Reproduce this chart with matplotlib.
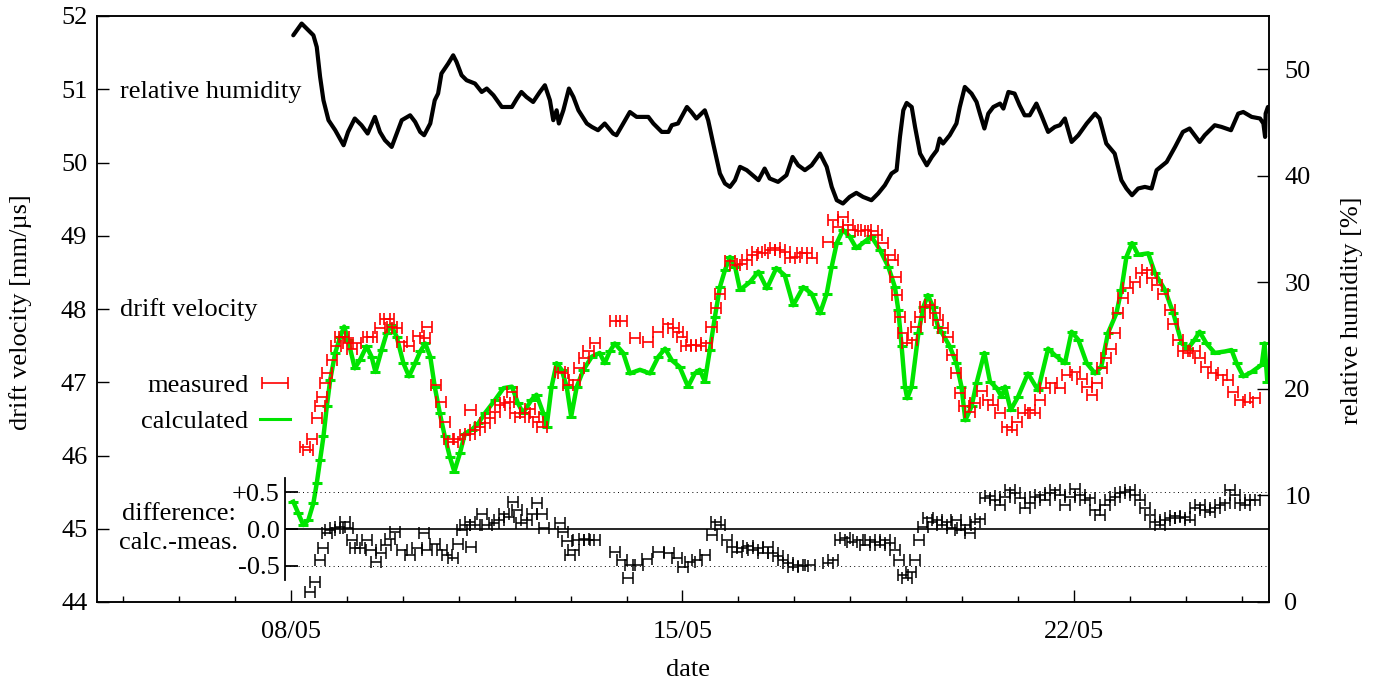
import matplotlib
matplotlib.use("Agg")
import matplotlib.pyplot as plt
from matplotlib.ticker import MultipleLocator, FixedLocator
from matplotlib.lines import Line2D

# ---------------------------------------------------------------- data
# time axis: day of May (08/05 -> 8.0)
hum_day = [8.04, 8.19, 8.28, 8.40, 8.46, 8.52, 8.58, 8.67, 8.79, 8.94,
           9.02, 9.14, 9.26, 9.37, 9.50, 9.59, 9.68, 9.80, 9.89, 9.98,
           10.13, 10.22, 10.31, 10.38, 10.49, 10.57, 10.63, 10.69, 10.81, 10.90,
           10.96, 11.05, 11.14, 11.29, 11.41, 11.50, 11.62, 11.77, 11.95, 12.04,
           12.12, 12.21, 12.33, 12.45, 12.54, 12.63, 12.69, 12.75, 12.79, 12.87,
           12.97, 13.05, 13.14, 13.29, 13.38, 13.49, 13.61, 13.76, 13.82, 13.94,
           14.06, 14.18, 14.39, 14.48, 14.63, 14.75, 14.81, 14.92, 15.08, 15.16,
           15.25, 15.40, 15.46, 15.55, 15.67, 15.76, 15.85, 15.94, 16.03, 16.15,
           16.36, 16.47, 16.56, 16.71, 16.86, 16.97, 17.07, 17.19, 17.31, 17.46,
           17.58, 17.67, 17.76, 17.87, 17.99, 18.11, 18.23, 18.38, 18.50, 18.62,
           18.74, 18.83, 18.89, 18.95, 19.01, 19.10, 19.16, 19.25, 19.37, 19.46,
           19.55, 19.60, 19.66, 19.78, 19.90, 19.96, 20.05, 20.17, 20.26, 20.32,
           20.40, 20.47, 20.56, 20.68, 20.74, 20.83, 20.94, 21.03, 21.12, 21.21,
           21.33, 21.42, 21.54, 21.66, 21.75, 21.84, 21.96, 22.08, 22.23, 22.38,
           22.46, 22.58, 22.73, 22.85, 22.94, 23.04, 23.15, 23.27, 23.39, 23.48,
           23.66, 23.81, 23.95, 24.07, 24.16, 24.25, 24.34, 24.52, 24.64, 24.81,
           24.94, 25.03, 25.18, 25.33, 25.39, 25.42, 25.43, 25.47]
hum_pct = [53.19, 54.29, 53.82, 53.19, 52.09, 49.28, 47.09, 45.22, 44.28, 42.87,
           44.12, 45.38, 44.75, 43.97, 45.53, 44.12, 43.34, 42.71, 43.97, 45.22,
           45.68, 45.06, 44.12, 43.81, 44.91, 47.09, 47.72, 49.60, 50.53, 51.31,
           50.69, 49.44, 48.97, 48.66, 47.87, 48.19, 47.56, 46.46, 46.46, 47.25,
           47.87, 47.40, 46.93, 47.87, 48.50, 47.09, 45.22, 46.15, 44.91, 46.15,
           48.19, 47.40, 46.15, 44.91, 44.59, 44.28, 44.91, 43.97, 43.81, 44.91,
           45.99, 45.53, 45.53, 44.91, 44.12, 44.12, 44.75, 44.91, 46.46, 45.99,
           45.38, 46.15, 45.22, 43.03, 40.22, 39.28, 38.96, 39.59, 40.84, 40.53,
           39.59, 40.68, 39.75, 39.43, 40.06, 41.77, 40.99, 40.53, 40.99, 42.09,
           40.84, 38.96, 37.71, 37.40, 38.02, 38.40, 38.02, 37.71, 38.34, 39.12,
           40.22, 40.53, 43.65, 46.15, 46.84, 46.46, 44.59, 42.09, 40.99, 41.77,
           42.40, 43.50, 43.03, 43.81, 44.91, 46.46, 48.34, 47.72, 46.93, 45.84,
           44.44, 45.84, 46.46, 46.78, 46.31, 47.87, 47.72, 46.62, 45.68, 45.68,
           46.78, 45.68, 44.12, 44.59, 44.75, 45.38, 43.18, 43.81, 44.91, 45.84,
           45.38, 43.03, 42.09, 39.59, 38.81, 38.18, 38.81, 38.96, 38.81, 40.53,
           41.30, 42.71, 44.12, 44.44, 43.81, 43.18, 43.81, 44.75, 44.59, 44.28,
           45.84, 45.99, 45.53, 45.38, 44.91, 43.65, 45.84, 46.46]

calc_day = [8.04, 8.13, 8.22, 8.31, 8.40, 8.46, 8.52, 8.58, 8.64, 8.70,
            8.79, 8.88, 8.95, 9.02, 9.14, 9.23, 9.35, 9.44, 9.51, 9.62,
            9.71, 9.79, 9.89, 10.01, 10.11, 10.22, 10.31, 10.40, 10.49, 10.57,
            10.66, 10.75, 10.84, 10.92, 11.02, 11.11, 11.23, 11.35, 11.47, 11.65,
            11.80, 11.95, 12.06, 12.15, 12.30, 12.39, 12.51, 12.57, 12.66, 12.75,
            12.84, 12.93, 13.01, 13.11, 13.23, 13.38, 13.52, 13.61, 13.70, 13.79,
            13.94, 14.06, 14.24, 14.42, 14.57, 14.69, 14.81, 14.95, 15.10, 15.22,
            15.31, 15.40, 15.49, 15.58, 15.67, 15.76, 15.85, 15.94, 16.03, 16.21,
            16.36, 16.51, 16.68, 16.83, 16.98, 17.16, 17.31, 17.46, 17.58, 17.67,
            17.76, 17.87, 17.99, 18.11, 18.26, 18.38, 18.53, 18.68, 18.80, 18.86,
            18.92, 18.98, 19.02, 19.10, 19.22, 19.31, 19.39, 19.48, 19.57, 19.63,
            19.78, 19.90, 19.99, 20.06, 20.17, 20.26, 20.40, 20.50, 20.62, 20.71,
            20.77, 20.87, 21.00, 21.18, 21.36, 21.54, 21.66, 21.78, 21.84, 21.96,
            22.08, 22.23, 22.38, 22.49, 22.61, 22.76, 22.85, 22.94, 23.04, 23.15,
            23.33, 23.45, 23.63, 23.78, 23.93, 24.04, 24.16, 24.25, 24.37, 24.52,
            24.70, 24.82, 24.91, 25.03, 25.18, 25.36, 25.41, 25.46]
calc_v = [45.37, 45.21, 45.05, 45.12, 45.35, 45.62, 45.94, 46.26, 46.67, 47.03,
          47.40, 47.62, 47.76, 47.58, 47.19, 47.30, 47.49, 47.35, 47.14, 47.44,
          47.67, 47.78, 47.62, 47.26, 47.08, 47.26, 47.42, 47.53, 47.35, 46.94,
          46.58, 46.26, 45.98, 45.78, 46.03, 46.30, 46.35, 46.44, 46.58, 46.76,
          46.92, 46.94, 46.71, 46.58, 46.76, 46.83, 46.58, 46.39, 46.94, 47.26,
          47.17, 46.94, 46.53, 46.94, 47.17, 47.35, 47.40, 47.26, 47.42, 47.53,
          47.40, 47.12, 47.17, 47.12, 47.35, 47.46, 47.30, 47.21, 46.94, 47.12,
          47.17, 47.01, 47.44, 47.89, 48.30, 48.53, 48.71, 48.58, 48.26, 48.37,
          48.51, 48.28, 48.56, 48.46, 48.05, 48.30, 48.21, 47.94, 48.21, 48.58,
          48.90, 49.08, 48.99, 48.83, 48.92, 48.99, 48.81, 48.58, 48.30, 47.99,
          47.49, 46.94, 46.78, 46.94, 47.67, 48.03, 48.19, 48.03, 47.76, 47.69,
          47.49, 47.26, 46.94, 46.48, 46.67, 46.99, 47.40, 47.01, 46.92, 46.80,
          46.94, 46.62, 46.80, 47.12, 46.89, 47.46, 47.37, 47.30, 47.26, 47.69,
          47.58, 47.26, 47.12, 47.21, 47.67, 47.94, 48.26, 48.71, 48.90, 48.74,
          48.76, 48.49, 48.26, 47.94, 47.53, 47.46, 47.58, 47.69, 47.53, 47.40,
          47.42, 47.44, 47.26, 47.08, 47.14, 47.24, 47.53, 47.01]

meas_day = [8.25, 8.31, 8.38, 8.46, 8.51, 8.55, 8.60, 8.65, 8.73, 8.80,
            8.88, 8.95, 9.02, 9.09, 9.17, 9.38, 9.45, 9.59, 9.68, 9.75,
            9.81, 9.89, 9.98, 10.11, 10.28, 10.40, 10.44, 10.59, 10.68, 10.75,
            10.82, 10.90, 10.99, 11.11, 11.20, 11.21, 11.29, 11.38, 11.47, 11.56,
            11.65, 11.74, 11.83, 11.90, 11.96, 12.01, 12.09, 12.18, 12.27, 12.35,
            12.42, 12.48, 12.81, 12.87, 12.96, 13.07, 13.15, 13.24, 13.32, 13.44,
            13.79, 13.91, 14.15, 14.39, 14.57, 14.75, 14.84, 14.92, 14.99, 15.07,
            15.16, 15.25, 15.34, 15.43, 15.52, 15.60, 15.67, 15.85, 15.94, 16.06,
            16.15, 16.24, 16.33, 16.44, 16.56, 16.65, 16.74, 16.83, 16.92, 17.01,
            17.13, 17.22, 17.31, 17.61, 17.70, 17.79, 17.87, 17.96, 18.05, 18.17,
            18.29, 18.41, 18.47, 18.59, 18.71, 18.76, 18.81, 18.84, 18.89, 18.95,
            19.01, 19.10, 19.17, 19.25, 19.34, 19.43, 19.51, 19.57, 19.66, 19.75,
            19.82, 19.90, 19.96, 20.04, 20.14, 20.23, 20.35, 20.47, 20.56, 20.68,
            20.80, 20.89, 20.98, 21.09, 21.21, 21.30, 21.39, 21.48, 21.60, 21.75,
            21.87, 22.02, 22.14, 22.23, 22.32, 22.41, 22.50, 22.58, 22.67, 22.73,
            22.79, 22.88, 22.97, 23.09, 23.21, 23.30, 23.39, 23.48, 23.60, 23.72,
            23.77, 23.86, 23.95, 24.04, 24.16, 24.25, 24.37, 24.49, 24.64, 24.76,
            24.85, 24.97, 25.12, 25.24]
meas_v = [46.12, 46.08, 46.22, 46.51, 46.67, 46.80, 46.99, 47.12, 47.30, 47.49,
          47.62, 47.62, 47.53, 47.46, 47.53, 47.62, 47.62, 47.74, 47.87, 47.87,
          47.76, 47.74, 47.55, 47.50, 47.63, 47.61, 47.76, 46.96, 46.73, 46.46,
          46.22, 46.19, 46.23, 46.28, 46.30, 46.62, 46.35, 46.39, 46.44, 46.51,
          46.60, 46.69, 46.72, 46.73, 46.87, 46.58, 46.53, 46.58, 46.63, 46.53,
          46.46, 46.39, 47.14, 47.12, 46.96, 47.03, 47.19, 47.33, 47.42, 47.53,
          47.83, 47.83, 47.60, 47.55, 47.69, 47.80, 47.74, 47.69, 47.62, 47.49,
          47.51, 47.51, 47.49, 47.53, 47.76, 48.01, 48.21, 48.65, 48.60, 48.62,
          48.67, 48.74, 48.78, 48.76, 48.81, 48.83, 48.81, 48.78, 48.69, 48.71,
          48.76, 48.76, 48.69, 48.92, 49.22, 49.12, 49.26, 49.15, 49.08, 49.06,
          49.08, 49.06, 49.01, 48.90, 48.74, 48.67, 48.44, 48.19, 47.89, 47.67,
          47.53, 47.58, 47.76, 47.89, 48.03, 48.05, 47.94, 47.85, 47.74, 47.62,
          47.37, 47.12, 46.85, 46.67, 46.60, 46.71, 46.88, 46.76, 46.69, 46.58,
          46.39, 46.35, 46.46, 46.58, 46.62, 46.58, 46.76, 46.92, 46.99, 46.92,
          47.10, 47.14, 47.05, 46.94, 46.83, 46.99, 47.19, 47.33, 47.46, 47.67,
          47.94, 48.15, 48.28, 48.37, 48.49, 48.53, 48.42, 48.33, 48.21, 47.99,
          47.80, 47.58, 47.42, 47.40, 47.42, 47.33, 47.21, 47.12, 47.10, 47.03,
          46.87, 46.76, 46.73, 46.78]

diff_day = [8.34, 8.43, 8.51, 8.57, 8.64, 8.70, 8.79, 8.88, 8.97, 9.02,
            9.09, 9.14, 9.23, 9.36, 9.43, 9.52, 9.60, 9.70, 9.77, 9.86,
            9.98, 10.13, 10.25, 10.37, 10.43, 10.57, 10.69, 10.78, 10.90, 10.99,
            11.05, 11.11, 11.20, 11.21, 11.29, 11.41, 11.50, 11.62, 11.71, 11.80,
            11.89, 11.97, 12.04, 12.12, 12.21, 12.30, 12.39, 12.48, 12.53, 12.81,
            12.87, 12.93, 12.98, 13.05, 13.14, 13.23, 13.32, 13.44, 13.79, 13.91,
            14.03, 14.06, 14.21, 14.36, 14.57, 14.75, 14.90, 15.01, 15.13, 15.26,
            15.40, 15.53, 15.60, 15.67, 15.80, 15.89, 15.97, 16.06, 16.17, 16.26,
            16.35, 16.44, 16.53, 16.62, 16.71, 16.80, 16.89, 16.98, 17.06, 17.15,
            17.28, 17.60, 17.69, 17.82, 17.91, 18.03, 18.14, 18.26, 18.35, 18.44,
            18.53, 18.62, 18.71, 18.80, 18.87, 18.94, 19.01, 19.09, 19.16, 19.23,
            19.30, 19.39, 19.46, 19.55, 19.64, 19.73, 19.82, 19.89, 19.96, 20.07,
            20.14, 20.23, 20.32, 20.41, 20.50, 20.59, 20.68, 20.77, 20.86, 20.94,
            21.03, 21.12, 21.21, 21.30, 21.39, 21.48, 21.57, 21.66, 21.75, 21.84,
            21.93, 22.02, 22.11, 22.20, 22.29, 22.38, 22.46, 22.55, 22.64, 22.73,
            22.82, 22.91, 23.00, 23.09, 23.18, 23.27, 23.36, 23.45, 23.54, 23.63,
            23.72, 23.81, 23.89, 23.98, 24.07, 24.16, 24.25, 24.34, 24.43, 24.52,
            24.61, 24.70, 24.79, 24.88, 24.97, 25.06, 25.15, 25.24]
diff_val = [-0.86, -0.72, -0.42, -0.26, -0.06, -0.01, 0.01, 0.03, 0.10, 0.01,
            -0.15, -0.26, -0.26, -0.15, -0.29, -0.45, -0.33, -0.22, -0.13, -0.04,
            -0.29, -0.35, -0.26, -0.06, -0.29, -0.20, -0.29, -0.35, -0.40, -0.20,
            -0.01, 0.05, 0.10, -0.24, 0.05, 0.21, 0.05, 0.08, 0.12, 0.21,
            0.17, 0.37, 0.26, 0.08, 0.12, 0.21, 0.35, 0.21, 0.01, 0.08,
            -0.04, -0.17, -0.35, -0.29, -0.15, -0.13, -0.15, -0.15, -0.31, -0.42,
            -0.67, -0.49, -0.49, -0.41, -0.31, -0.33, -0.40, -0.52, -0.45, -0.42,
            -0.35, -0.08, 0.10, 0.05, -0.15, -0.25, -0.31, -0.26, -0.23, -0.29,
            -0.26, -0.33, -0.25, -0.33, -0.37, -0.42, -0.46, -0.52, -0.49, -0.51,
            -0.49, -0.46, -0.42, -0.15, -0.12, -0.18, -0.15, -0.22, -0.15, -0.18,
            -0.22, -0.15, -0.19, -0.29, -0.42, -0.63, -0.67, -0.59, -0.42, -0.15,
            0.03, 0.15, 0.10, 0.12, 0.05, 0.10, 0.01, 0.12, -0.01, 0.05,
            -0.05, 0.10, 0.14, 0.42, 0.45, 0.40, 0.33, 0.44, 0.53, 0.49,
            0.42, 0.29, 0.35, 0.44, 0.46, 0.40, 0.49, 0.53, 0.46, 0.33,
            0.44, 0.55, 0.46, 0.40, 0.42, 0.26, 0.19, 0.33, 0.40, 0.44,
            0.49, 0.51, 0.53, 0.46, 0.40, 0.29, 0.19, 0.10, 0.05, 0.12,
            0.15, 0.18, 0.15, 0.16, 0.12, 0.29, 0.33, 0.26, 0.23, 0.29,
            0.33, 0.35, 0.53, 0.46, 0.35, 0.33, 0.40, 0.40]

date_ticks = [8, 15, 22]
date_labels = ["08/05", "15/05", "22/05"]
vel_ticks = list(range(44, 53))
hum_ticks = [0, 10, 20, 30, 40, 50]
diff_ticks = [-0.5, 0.0, 0.5]
diff_labels = ["-0.5", "0.0", "+0.5"]

# ---------------------------------------------------------------- style
FS = 19
plt.rcParams["font.family"] = ["Liberation Serif", "DejaVu Serif"]
plt.rcParams["font.size"] = FS
RED = "#ff0000"
GREEN = "#00e400"
W, H = 1385, 684


def fx(px):
    return px / W


def fy(py):
    return 1 - py / H


fig = plt.figure(figsize=(W / 100, H / 100), dpi=100)
ax = fig.add_axes([fx(97), fy(602), fx(1269 - 97), (602 - 16) / H])
ax2 = ax.twinx()
for a in (ax, ax2):
    for s in a.spines.values():
        s.set_linewidth(1.1)

ax.set_xlim(4.53, 25.49)
ax.set_ylim(44, 52)
ax2.set_ylim(0, 55)

ax.xaxis.set_major_locator(FixedLocator(date_ticks))
ax.set_xticklabels(date_labels)
ax.xaxis.set_minor_locator(MultipleLocator(1))
ax.tick_params(axis="x", which="major", direction="in", length=8.5, width=1.0,
               pad=14, top=False, labelsize=FS)
ax.tick_params(axis="x", which="minor", direction="in", length=4.5, width=1.0,
               top=False)
ax.set_yticks(vel_ticks)
ax.tick_params(axis="y", direction="in", length=8.5, width=1.0, pad=7,
               right=False, labelsize=FS)
ax2.set_yticks(hum_ticks)
ax2.tick_params(axis="y", direction="in", length=8.5, width=1.0, pad=11,
                left=False, labelsize=FS)

# calculated drift velocity: dense green band of short horizontal strokes
ax.plot(calc_day, calc_v, color=GREEN, lw=3.2, zorder=2)
ax.errorbar(calc_day, calc_v, xerr=0.09, fmt="none", ecolor=GREEN,
            elinewidth=2.2, capsize=0, zorder=2)
calc_handle = Line2D([], [], color=GREEN, lw=2.2)

# measured drift velocity with time-bin error bars
meas = ax.errorbar(meas_day, meas_v, xerr=0.09, fmt="none", ecolor=RED,
                   elinewidth=1.2, capsize=4, capthick=1.2, zorder=3)

# relative humidity on the right axis
ax2.plot(hum_day, hum_pct, color="black", lw=3.0, solid_joinstyle="round",
         solid_capstyle="round")

leg = fig.legend([meas, calc_handle], ["measured", "calculated"],
                 loc="upper right", bbox_to_anchor=(fx(290), fy(374)),
                 frameon=False, markerfirst=False, handlelength=1.15,
                 handletextpad=0.42, labelspacing=0.45, borderpad=0,
                 borderaxespad=0, fontsize=FS)

# difference panel, sharing the velocity scale (0 sits on 45 mm/us)
axd = fig.add_axes([fx(285), fy(580), fx(1269 - 285), (580 - 478) / H])
axd.set_xlim(7.89, 25.49)
half = (580 - 478) / 2 / (586 / 8)
axd.set_ylim(-half, half)
axd.patch.set_visible(False)
for side in ("top", "right", "bottom"):
    axd.spines[side].set_visible(False)
axd.spines["left"].set_linewidth(1.3)
axd.set_xticks([])
axd.set_yticks(diff_ticks)
axd.set_yticklabels(diff_labels)
axd.tick_params(axis="y", direction="in", length=9.5, width=1.3, pad=4,
                labelsize=FS)
axd.axhline(0.0, color="black", lw=1.2)
for lvl in (0.5, -0.5):
    axd.axhline(lvl, color="black", lw=0.7, linestyle=(0, (1, 3.5)))
axd.errorbar(diff_day, diff_val, xerr=0.09, fmt="none", ecolor="black",
             elinewidth=1.1, capsize=4, capthick=1.1, clip_on=False)

# labels and annotations
fig.text(fx(120), fy(98), "relative humidity", ha="left", va="baseline")
fig.text(fx(120), fy(316), "drift velocity", ha="left", va="baseline")
fig.text(fx(236), fy(520), "difference:", ha="right", va="baseline")
fig.text(fx(238), fy(549), "calc.-meas.", ha="right", va="baseline")
fig.text(fx(21), fy(312), "drift velocity [mm/\u00b5s]", rotation=90,
         ha="center", va="center")
fig.text(fx(1352), fy(310), "relative humidity [%]", rotation=90,
         ha="center", va="center")
fig.text(fx(688), fy(670), "date", ha="center", va="center")

fig.savefig("out.png", dpi=100)
